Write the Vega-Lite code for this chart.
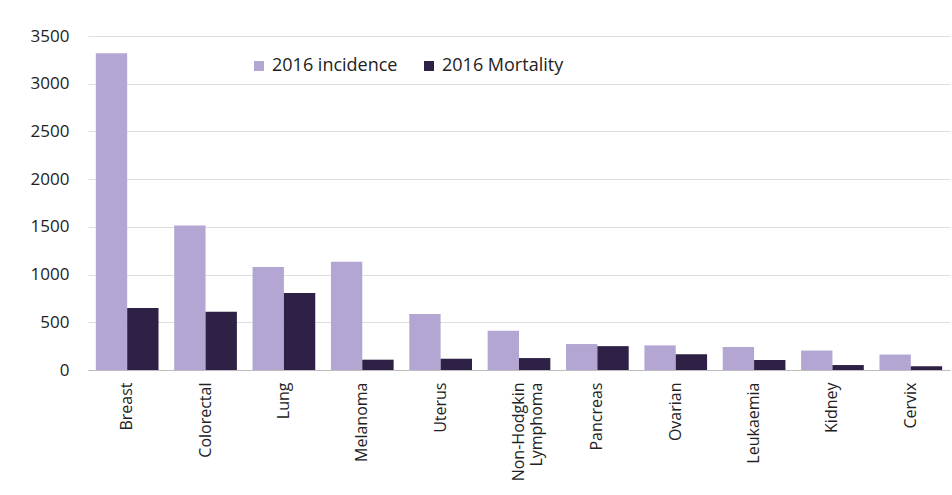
{
  "$schema": "https://vega.github.io/schema/vega-lite/v6.json",
  "autosize": {"type": "none"},
  "padding": {"left": 88, "top": 36, "right": 2, "bottom": 125},
  "width": 862,
  "height": 334,
  "background": "white",
  "data": {
    "values": [
      {"cancer": "Breast", "series": "2016 incidence", "value": 3320},
      {"cancer": "Breast", "series": "2016 Mortality", "value": 650},
      {"cancer": "Colorectal", "series": "2016 incidence", "value": 1515},
      {"cancer": "Colorectal", "series": "2016 Mortality", "value": 610},
      {"cancer": "Lung", "series": "2016 incidence", "value": 1080},
      {"cancer": "Lung", "series": "2016 Mortality", "value": 808},
      {"cancer": "Melanoma", "series": "2016 incidence", "value": 1135},
      {"cancer": "Melanoma", "series": "2016 Mortality", "value": 108},
      {"cancer": "Uterus", "series": "2016 incidence", "value": 588},
      {"cancer": "Uterus", "series": "2016 Mortality", "value": 118},
      {"cancer": "Non-Hodgkin Lymphoma", "series": "2016 incidence", "value": 412},
      {"cancer": "Non-Hodgkin Lymphoma", "series": "2016 Mortality", "value": 125},
      {"cancer": "Pancreas", "series": "2016 incidence", "value": 272},
      {"cancer": "Pancreas", "series": "2016 Mortality", "value": 250},
      {"cancer": "Ovarian", "series": "2016 incidence", "value": 258},
      {"cancer": "Ovarian", "series": "2016 Mortality", "value": 165},
      {"cancer": "Leukaemia", "series": "2016 incidence", "value": 240},
      {"cancer": "Leukaemia", "series": "2016 Mortality", "value": 105},
      {"cancer": "Kidney", "series": "2016 incidence", "value": 204},
      {"cancer": "Kidney", "series": "2016 Mortality", "value": 52},
      {"cancer": "Cervix", "series": "2016 incidence", "value": 162},
      {"cancer": "Cervix", "series": "2016 Mortality", "value": 40}
    ]
  },
  "mark": {"type": "bar"},
  "encoding": {
    "x": {
      "field": "cancer",
      "type": "nominal",
      "sort": null,
      "scale": {"paddingInner": 0.2, "paddingOuter": 0.1},
      "axis": {
        "title": null,
        "labelAngle": -90,
        "labelAlign": "right",
        "labelBaseline": "middle",
        "labelExpr": "split(datum.label, ' ')",
        "labelFont": "Open Sans",
        "labelFontSize": 16,
        "labelColor": "#222222",
        "labelPadding": 12,
        "labelLineHeight": 18,
        "ticks": false,
        "domainColor": "#bdbdbd",
        "grid": false
      }
    },
    "xOffset": {"field": "series", "type": "nominal", "sort": ["2016 incidence", "2016 Mortality"], "scale": {"paddingInner": 0}},
    "y": {
      "field": "value",
      "type": "quantitative",
      "scale": {"domain": [0, 3500]},
      "axis": {
        "title": null,
        "format": "d",
        "values": [0, 500, 1000, 1500, 2000, 2500, 3000, 3500],
        "labelFont": "Open Sans",
        "labelFontSize": 17,
        "labelColor": "#222222",
        "labelPadding": 19,
        "ticks": false,
        "domain": false,
        "gridColor": "#dedede"
      }
    },
    "color": {
      "field": "series",
      "type": "nominal",
      "scale": {"domain": ["2016 incidence", "2016 Mortality"], "range": ["#b3a6d3", "#2e2145"]},
      "legend": {
        "title": null,
        "orient": "none",
        "legendX": 162,
        "legendY": 21,
        "direction": "horizontal",
        "symbolType": "square",
        "symbolSize": 100,
        "labelFont": "Open Sans",
        "labelFontSize": 18,
        "labelColor": "#222222",
        "columnPadding": 22
      }
    }
  },
  "config": {"view": {"stroke": null}}
}
